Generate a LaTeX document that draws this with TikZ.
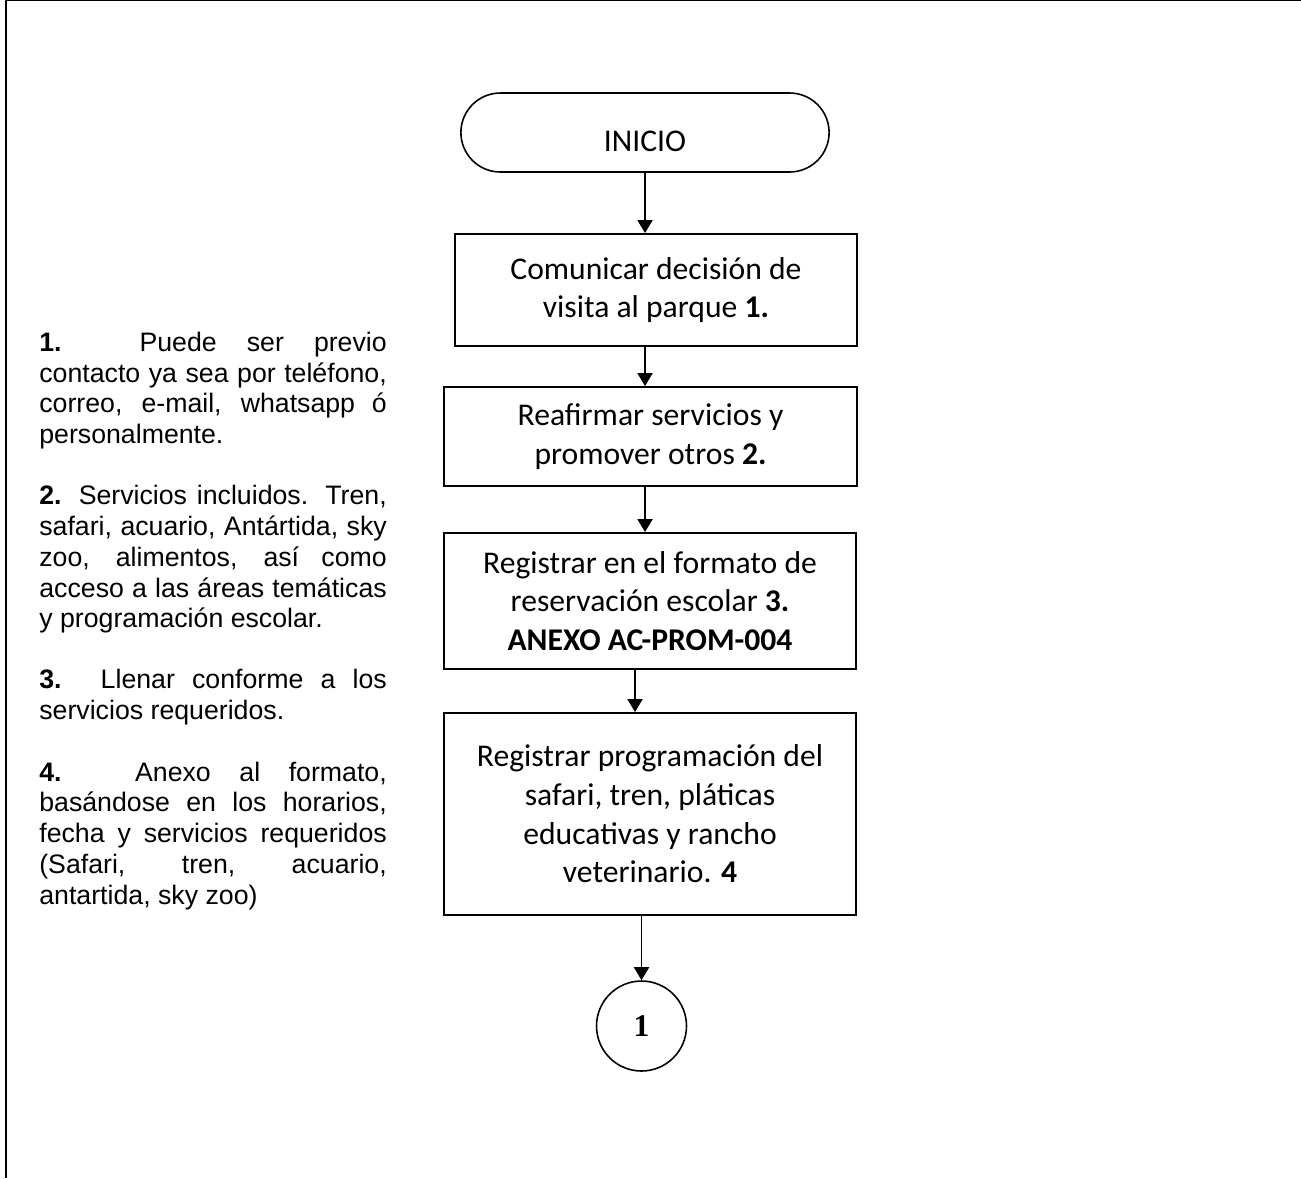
\documentclass[tikz,border=0pt]{standalone}
\usepackage{fontspec}
\setmainfont{Carlito}
\newfontfamily\notefont{Liberation Sans}
\newfontfamily\connfont{Liberation Serif}
\tolerance=9999
\hbadness=10000
\usetikzlibrary{shapes.misc,arrows.meta,calc}
\tikzset{my box/.style={draw, line width=1.1pt, align=center, inner sep=0pt, font=\fontsize{18}{22}\selectfont},
my terminal/.style={draw, rounded rectangle, line width=0.9pt, minimum width=7.6cm, minimum height=1.58cm, text height=22pt, text depth=0pt, font=\fontsize{18}{22}\selectfont},
my connector/.style={draw, circle, line width=0.9pt, minimum size=1.8cm, inner sep=0pt, font=\connfont\bfseries\fontsize{18}{22}\selectfont},
my note/.style={anchor=north west, inner sep=0pt, text width=6.95cm, align=justify, font=\notefont\fontsize{15.2}{17.5}\selectfont},
my arrow/.style={line width=1.1pt, -{Triangle[length=0.26cm,width=0.3cm]}},}

\begin{document}
\begin{tikzpicture}[x=0.02cm, y=-0.02cm]
\useasboundingbox (0,0) rectangle (1301,1178);
% page frame
\draw [line width=0.046cm] (6.2,1178) -- (6.2,0) -- (1301,0);
% notes
\node [my note] (note1) at (39, 329.4) {\strut\textbf{1.} Puede ser previo\linebreak contacto ya sea por teléfono,\linebreak correo, e-mail, whatsapp ó\linebreak personalmente.};
\node [my note] (note2) at (39, 482.9) {\strut\textbf{2.} Servicios incluidos. Tren,\linebreak safari, acuario, Antártida, sky\linebreak zoo, alimentos, así como\linebreak acceso a las áreas temáticas\linebreak y programación escolar.};
\node [my note] (note3) at (39, 667.1) {\strut\textbf{3.} Llenar conforme a los\linebreak servicios requeridos.};
\node [my note] (note4) at (39, 759.2) {\strut\textbf{4.} Anexo al formato,\linebreak basándose en los horarios,\linebreak fecha y servicios requeridos\linebreak (Safari, tren, acuario,\linebreak antartida, sky zoo)};
% flow
\node [my terminal] (inicio) at (645, 132.5) {INICIO};
\node [my box, minimum width=8.04cm, minimum height=2.24cm] (comunicar) at (656, 290) {Comunicar decisión de\\visita al parque \textbf{1.}};
\node [my box, minimum width=8.26cm, minimum height=1.98cm] (reafirmar) at (650.5, 436.5) {Reafirmar servicios y\\promover otros \textbf{2.}};
\node [my box, minimum width=8.24cm, minimum height=2.72cm] (formato) at (650, 601) {Registrar en el formato de\\reservación escolar \textbf{3.}\\\textbf{ANEXO AC-PROM-004}};
\node [my box, minimum width=8.24cm, minimum height=4.04cm] (programa) at (650, 814) {Registrar programación del\\safari, tren, pláticas\\educativas y rancho\\veterinario. \textbf{4}};
\node [my connector] (conector) at (641.5, 1026) {1};
\draw [my arrow] (inicio.south) -- (inicio.south |- comunicar.north);
\draw [my arrow] (comunicar.south -| inicio) -- (reafirmar.north -| inicio);
\draw [my arrow] (reafirmar.south -| inicio) -- (formato.north -| inicio);
\draw [my arrow] ($(formato.south -| inicio)+(-10,0)$) -- ($(programa.north -| inicio)+(-10,0)$);
\draw [my arrow] (programa.south -| conector) -- (conector.north);
\end{tikzpicture}
\end{document}
